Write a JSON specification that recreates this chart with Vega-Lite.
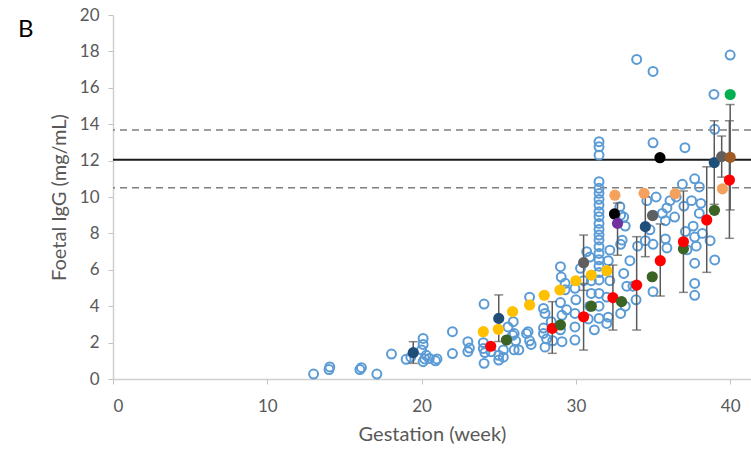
{
  "$schema": "https://vega.github.io/schema/vega-lite/v6.json",
  "autosize": "none",
  "width": 638,
  "height": 364,
  "padding": {"left": 113, "top": 15, "right": 0, "bottom": 70},
  "background": "#ffffff",
  "title": {"text": "B", "anchor": "start", "frame": "group", "font": "Lato", "fontSize": 24, "fontWeight": "normal", "color": "#000000", "dx": -95, "dy": 55, "offset": 0, "baseline": "alphabetic"},
  "config": {
    "view": {"stroke": null},
    "axis": {"grid": false, "domainColor": "#d0d0d0", "domainWidth": 1.5, "tickColor": "#c0c0c0", "tickSize": 5, "labelColor": "#595959", "labelFont": "Lato", "labelFontSize": 17, "titleFont": "Lato", "titleFontSize": 20, "titleColor": "#595959", "titleFontWeight": "normal", "labelOverlap": false}
  },
  "encoding": {
    "x": {"type": "quantitative", "scale": {"domain": [0, 41.35], "nice": false, "zero": false},
      "axis": {"values": [0, 10, 20, 30, 40], "title": "Gestation (week)", "labelPadding": 14, "titlePadding": 10, "labelOverlap": false}},
    "y": {"type": "quantitative", "scale": {"domain": [0, 20], "nice": false},
      "axis": {"values": [0, 2, 4, 6, 8, 10, 12, 14, 16, 18, 20], "tickCount": 11, "title": "Foetal IgG (mg/mL)", "labelPadding": 9, "titlePadding": 10, "labelOverlap": false}}
  },
  "datasets": {
    "refs": [
      {"v": 12.05, "kind": "mean"},
      {"v": 13.68, "kind": "bound"},
      {"v": 10.51, "kind": "bound"}
    ],
    "circles": [
      {"wk": 13.0, "v": 0.27}, {"wk": 14.0, "v": 0.52}, {"wk": 14.05, "v": 0.66}, {"wk": 16.0, "v": 0.52}, {"wk": 16.1, "v": 0.62},
      {"wk": 17.1, "v": 0.27}, {"wk": 18.05, "v": 1.37}, {"wk": 19.0, "v": 1.08}, {"wk": 19.3, "v": 1.2}, {"wk": 20.0, "v": 1.6},
      {"wk": 20.1, "v": 2.23}, {"wk": 20.1, "v": 1.9}, {"wk": 20.2, "v": 1.1}, {"wk": 20.3, "v": 1.3}, {"wk": 20.5, "v": 1.13},
      {"wk": 20.1, "v": 0.95}, {"wk": 20.9, "v": 1.0}, {"wk": 21.0, "v": 1.1}, {"wk": 22.0, "v": 2.6}, {"wk": 22.0, "v": 1.4},
      {"wk": 23.0, "v": 2.05}, {"wk": 23.0, "v": 1.5}, {"wk": 23.1, "v": 1.7}, {"wk": 24.05, "v": 4.12}, {"wk": 24.0, "v": 1.68},
      {"wk": 24.0, "v": 2.0}, {"wk": 24.1, "v": 1.45}, {"wk": 24.05, "v": 0.86}, {"wk": 24.5, "v": 1.5}, {"wk": 25.0, "v": 1.04},
      {"wk": 25.0, "v": 1.3}, {"wk": 25.3, "v": 1.6}, {"wk": 25.6, "v": 2.86}, {"wk": 25.9, "v": 2.4}, {"wk": 26.0, "v": 1.6},
      {"wk": 26.3, "v": 1.6}, {"wk": 26.1, "v": 2.1}, {"wk": 25.3, "v": 1.2}, {"wk": 25.94, "v": 3.15}, {"wk": 26.0, "v": 2.5},
      {"wk": 26.8, "v": 2.5}, {"wk": 27.0, "v": 4.5}, {"wk": 27.0, "v": 2.1}, {"wk": 27.1, "v": 1.9}, {"wk": 26.9, "v": 2.6},
      {"wk": 28.0, "v": 3.6}, {"wk": 27.9, "v": 2.8}, {"wk": 28.1, "v": 2.2}, {"wk": 28.0, "v": 1.75}, {"wk": 28.4, "v": 3.15},
      {"wk": 28.5, "v": 2.1}, {"wk": 27.9, "v": 3.88}, {"wk": 27.9, "v": 2.5},
      {"wk": 29.0, "v": 6.17}, {"wk": 29.05, "v": 5.6}, {"wk": 29.0, "v": 4.2}, {"wk": 29.1, "v": 3.5}, {"wk": 29.0, "v": 2.7},
      {"wk": 29.1, "v": 2.05}, {"wk": 29.3, "v": 4.9}, {"wk": 29.4, "v": 3.8}, {"wk": 29.3, "v": 5.26},
      {"wk": 29.94, "v": 4.98}, {"wk": 30.0, "v": 4.35}, {"wk": 29.94, "v": 3.6}, {"wk": 29.94, "v": 2.86}, {"wk": 29.94, "v": 2.14},
      {"wk": 30.5, "v": 5.4}, {"wk": 30.3, "v": 6.08}, {"wk": 30.9, "v": 6.7}, {"wk": 31.0, "v": 5.4}, {"wk": 31.0, "v": 4.7},
      {"wk": 30.9, "v": 4.0}, {"wk": 30.8, "v": 3.3}, {"wk": 31.2, "v": 2.7}, {"wk": 30.7, "v": 7.0},
      {"wk": 31.5, "v": 13.04}, {"wk": 31.5, "v": 12.76}, {"wk": 31.5, "v": 12.3}, {"wk": 31.5, "v": 10.84}, {"wk": 31.5, "v": 10.48},
      {"wk": 31.5, "v": 10.2}, {"wk": 31.5, "v": 9.87}, {"wk": 31.5, "v": 9.56}, {"wk": 31.5, "v": 9.19}, {"wk": 31.5, "v": 8.92},
      {"wk": 31.5, "v": 8.55}, {"wk": 31.5, "v": 8.22}, {"wk": 31.5, "v": 7.91}, {"wk": 31.5, "v": 7.64}, {"wk": 31.5, "v": 7.27},
      {"wk": 31.5, "v": 6.9}, {"wk": 31.5, "v": 6.55}, {"wk": 31.5, "v": 6.2}, {"wk": 31.5, "v": 5.85}, {"wk": 31.5, "v": 5.44},
      {"wk": 31.5, "v": 4.7}, {"wk": 31.5, "v": 4.0}, {"wk": 31.5, "v": 3.33},
      {"wk": 32.2, "v": 7.08}, {"wk": 32.1, "v": 6.5}, {"wk": 32.2, "v": 5.4}, {"wk": 32.0, "v": 4.5}, {"wk": 32.1, "v": 3.4},
      {"wk": 32.0, "v": 3.05}, {"wk": 32.85, "v": 9.47}, {"wk": 33.1, "v": 8.9}, {"wk": 33.0, "v": 7.63}, {"wk": 33.1, "v": 5.8},
      {"wk": 33.2, "v": 4.0}, {"wk": 33.3, "v": 5.1}, {"wk": 32.9, "v": 9.0}, {"wk": 32.9, "v": 7.4}, {"wk": 33.2, "v": 8.4},
      {"wk": 32.9, "v": 3.6}, {"wk": 33.5, "v": 6.5}, {"wk": 33.7, "v": 5.1}, {"wk": 34.0, "v": 7.3}, {"wk": 33.9, "v": 4.35},
      {"wk": 34.5, "v": 7.6}, {"wk": 34.6, "v": 9.8}, {"wk": 34.8, "v": 8.2}, {"wk": 35.0, "v": 9.0}, {"wk": 35.2, "v": 10.0},
      {"wk": 35.0, "v": 7.4}, {"wk": 35.0, "v": 4.8}, {"wk": 35.6, "v": 9.1}, {"wk": 35.9, "v": 9.4}, {"wk": 35.8, "v": 8.7},
      {"wk": 35.8, "v": 7.7}, {"wk": 35.9, "v": 7.2}, {"wk": 36.1, "v": 9.8}, {"wk": 36.4, "v": 8.9}, {"wk": 36.5, "v": 10.0},
      {"wk": 36.9, "v": 10.7}, {"wk": 37.0, "v": 9.5}, {"wk": 37.1, "v": 8.1}, {"wk": 37.2, "v": 7.1}, {"wk": 37.5, "v": 9.8},
      {"wk": 37.7, "v": 11.0}, {"wk": 37.6, "v": 8.4}, {"wk": 37.7, "v": 7.8}, {"wk": 37.8, "v": 7.3}, {"wk": 37.7, "v": 6.36},
      {"wk": 37.7, "v": 5.25}, {"wk": 37.7, "v": 4.6}, {"wk": 38.0, "v": 10.55}, {"wk": 38.1, "v": 9.65}, {"wk": 38.0, "v": 9.1},
      {"wk": 39.0, "v": 6.54}, {"wk": 38.2, "v": 8.0}, {"wk": 38.7, "v": 7.6},
      {"wk": 39.0, "v": 13.72}, {"wk": 35.0, "v": 12.98}, {"wk": 37.07, "v": 12.71},
      {"wk": 33.94, "v": 17.56}, {"wk": 35.0, "v": 16.9}, {"wk": 40.0, "v": 17.8}, {"wk": 38.95, "v": 15.64}
    ],
    "filled": [
      {"g": "A", "wk": 19.46, "v": 1.45, "lo": 0.86, "hi": 2.05},
      {"g": "B", "wk": 24.0, "v": 2.6},
      {"g": "C", "wk": 24.48, "v": 1.8},
      {"g": "B", "wk": 24.97, "v": 2.73},
      {"g": "A", "wk": 25.0, "v": 3.33, "lo": 2.06, "hi": 4.62},
      {"g": "D", "wk": 25.5, "v": 2.14},
      {"g": "B", "wk": 25.9, "v": 3.7},
      {"g": "B", "wk": 27.0, "v": 4.07},
      {"g": "B", "wk": 27.95, "v": 4.6},
      {"g": "B", "wk": 28.97, "v": 4.89},
      {"g": "C", "wk": 28.47, "v": 2.78, "lo": 1.41, "hi": 4.25},
      {"g": "D", "wk": 29.0, "v": 2.97},
      {"g": "B", "wk": 30.0, "v": 5.4},
      {"g": "E", "wk": 30.5, "v": 6.39, "lo": 4.87, "hi": 7.91},
      {"g": "C", "wk": 30.5, "v": 3.42, "lo": 1.59, "hi": 5.25},
      {"g": "B", "wk": 31.0, "v": 5.71},
      {"g": "D", "wk": 31.0, "v": 4.0},
      {"g": "B", "wk": 32.0, "v": 5.95},
      {"g": "C", "wk": 32.4, "v": 4.47, "lo": 2.69, "hi": 6.26},
      {"g": "D", "wk": 32.96, "v": 4.25},
      {"g": "F", "wk": 32.53, "v": 10.1},
      {"g": "G", "wk": 32.5, "v": 9.07},
      {"g": "H", "wk": 32.7, "v": 8.55, "lo": 6.8, "hi": 9.67},
      {"g": "C", "wk": 33.94, "v": 5.16, "lo": 2.69, "hi": 7.82},
      {"g": "A", "wk": 34.5, "v": 8.37, "lo": 6.72, "hi": 10.02},
      {"g": "F", "wk": 34.42, "v": 10.2},
      {"g": "E", "wk": 34.97, "v": 8.98},
      {"g": "D", "wk": 34.95, "v": 5.62},
      {"g": "C", "wk": 35.47, "v": 6.5, "lo": 4.56, "hi": 8.52},
      {"g": "G", "wk": 35.45, "v": 12.16},
      {"g": "F", "wk": 36.44, "v": 10.18},
      {"g": "D", "wk": 36.97, "v": 7.15},
      {"g": "C", "wk": 36.97, "v": 7.54, "lo": 4.76, "hi": 10.33},
      {"g": "C", "wk": 38.48, "v": 8.74, "lo": 5.86, "hi": 11.66},
      {"g": "D", "wk": 38.98, "v": 9.27},
      {"g": "F", "wk": 39.5, "v": 10.45},
      {"g": "A", "wk": 38.97, "v": 11.89, "lo": 9.6, "hi": 14.19},
      {"g": "E", "wk": 39.45, "v": 12.22, "lo": 11.09, "hi": 13.35},
      {"g": "I", "wk": 40.0, "v": 12.18, "lo": 9.29, "hi": 15.08},
      {"g": "C", "wk": 39.95, "v": 10.93, "lo": 7.73, "hi": 14.19},
      {"g": "J", "wk": 40.0, "v": 15.63}
    ]
  },
  "layer": [
    {
      "data": {"name": "refs"},
      "transform": [{"filter": "datum.kind === 'bound'"}],
      "mark": {"type": "rule", "color": "#7f7f7f", "strokeWidth": 1.5, "strokeDash": [7, 5]},
      "encoding": {"y": {"field": "v"}}
    },
    {
      "data": {"name": "refs"},
      "transform": [{"filter": "datum.kind === 'mean'"}],
      "mark": {"type": "rule", "color": "#1a1a1a", "strokeWidth": 2},
      "encoding": {"y": {"field": "v"}}
    },
    {
      "data": {"name": "circles"},
      "mark": {"type": "point", "shape": "circle", "filled": false, "stroke": "#5b9bd5", "strokeWidth": 2, "size": 80, "opacity": 1},
      "encoding": {
        "x": {"field": "wk"},
        "y": {"field": "v"}
      }
    },
    {
      "data": {"name": "filled"},
      "transform": [{"filter": "isValid(datum.lo)"}],
      "mark": {"type": "rule", "color": "#595959", "strokeWidth": 1.5},
      "encoding": {
        "x": {"field": "wk"},
        "y": {"field": "lo"},
        "y2": {"field": "hi"}
      }
    },
    {
      "data": {"name": "filled"},
      "transform": [{"filter": "isValid(datum.lo)"}],
      "mark": {"type": "tick", "orient": "horizontal", "color": "#595959", "thickness": 1.5, "size": 9},
      "encoding": {
        "x": {"field": "wk"},
        "y": {"field": "lo"}
      }
    },
    {
      "data": {"name": "filled"},
      "transform": [{"filter": "isValid(datum.hi)"}],
      "mark": {"type": "tick", "orient": "horizontal", "color": "#595959", "thickness": 1.5, "size": 9},
      "encoding": {
        "x": {"field": "wk"},
        "y": {"field": "hi"}
      }
    },
    {
      "data": {"name": "filled"},
      "mark": {"type": "point", "shape": "circle", "filled": true, "size": 125, "opacity": 1},
      "encoding": {
        "x": {"field": "wk"},
        "y": {"field": "v"},
        "color": {"field": "g", "type": "nominal", "legend": null,
          "scale": {"domain": ["A", "B", "C", "D", "E", "F", "G", "H", "I", "J"],
            "range": ["#1f4e79", "#ffc000", "#ff0000", "#3b6324", "#5f5f5f", "#f4a15d", "#000000", "#7030a0", "#9e5b26", "#00b050"]}}
      }
    }
  ]
}
